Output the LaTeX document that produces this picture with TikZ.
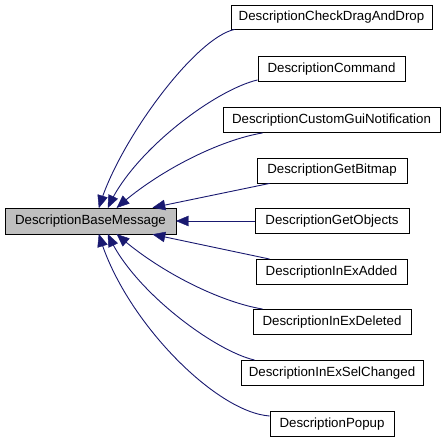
\documentclass[tikz,border=0pt]{standalone}
\usepackage{fontspec}
\setmainfont{Liberation Sans}
\usetikzlibrary{calc}
\definecolor{edgecol}{HTML}{191970}
\definecolor{basefill}{HTML}{BFBFBF}
\tikzset{
  cls/.style={draw=black, line width=0.9bp, fill=white, minimum height=25bp, inner sep=0pt, font=\fontsize{13.3bp}{15bp}\selectfont},
  basecls/.style={cls, fill=basefill, minimum height=26bp},
  conn/.style={draw=edgecol, line width=0.9bp, shorten >=4bp},
  tiphead/.style={fill=edgecol, draw=edgecol, line width=0.4bp, line join=miter},
}
\newcommand\headto[2]{\path[tiphead] (#1) -- ($(#1)!12bp!(#2)!5bp!90:(#1)$) -- ($(#1)!12bp!(#2)!5bp!-90:(#1)$) -- cycle;}
\begin{document}
\begin{tikzpicture}[x=1bp,y=1bp]
\useasboundingbox (0,0) rectangle (445,443);
\node[basecls, minimum width=171bp] (base) at (90.5,222) {DescriptionBaseMessage};
\node[cls, minimum width=201bp, minimum height=24bp] (n1) at (331.5,426) {DescriptionCheckDragAndDrop};
\node[cls, minimum width=147bp] (n2) at (331.5,374) {DescriptionCommand};
\node[cls, minimum width=217bp] (n3) at (331.5,323) {DescriptionCustomGuiNotification};
\node[cls, minimum width=150bp] (n4) at (332,272.5) {DescriptionGetBitmap};
\node[cls, minimum width=154bp] (n5) at (332,222) {DescriptionGetObjects};
\node[cls, minimum width=151bp] (n6) at (331.5,171) {DescriptionInExAdded};
\node[cls, minimum width=158bp] (n7) at (332,121) {DescriptionInExDeleted};
\node[cls, minimum width=182bp] (n8) at (332,70) {DescriptionInExSelChanged};
\node[cls, minimum width=124bp] (n9) at (332,19) {DescriptionPopup};

\coordinate (t1) at ([xshift=8.5bp]base.north);
\coordinate (t2) at ([xshift=17.5bp]base.north);
\coordinate (t3) at ([xshift=26.5bp]base.north);
\coordinate (t4) at ([xshift=62.5bp]base.north);
\coordinate (t6) at ([xshift=62.5bp]base.south);
\coordinate (t7) at ([xshift=26.5bp]base.south);
\coordinate (t8) at ([xshift=17.5bp]base.south);
\coordinate (t9) at ([xshift=8.5bp]base.south);
\coordinate (s1) at ([xshift=4bp]n1.south west);
\coordinate (s2) at ([yshift=2bp]n2.south west);
\coordinate (s3) at ([xshift=40bp]n3.south west);
\coordinate (s4) at ([xshift=13bp]n4.south west);
\coordinate (s6) at ([xshift=14bp]n6.north west);
\coordinate (s7) at ([xshift=10bp]n7.north west);
\coordinate (s8) at ([xshift=14bp]n8.north west);
\coordinate (s9) at ([yshift=8bp]n9.west);

\draw[conn] (s1) .. controls (195,405) and (120,303) .. (t1);
\draw[conn] (s2) .. controls (215,353) and (135,293) .. (t2);
\draw[conn] (s3) .. controls (220,303) and (160,273) .. (t3);
\draw[conn] (s4) -- (t4);
\draw[conn] (n5.west) -- (base.east);
\draw[conn] (s6) -- (t6);
\draw[conn] (s7) .. controls (220,141) and (160,171) .. (t7);
\draw[conn] (s8) .. controls (215,92) and (135,151) .. (t8);
\draw[conn] (s9) .. controls (215,31) and (125,123) .. (t9);

\headto{t1}{120,303}
\headto{t2}{135,293}
\headto{t3}{160,273}
\headto{t4}{s4}
\headto{base.east}{n5.west}
\headto{t6}{s6}
\headto{t7}{160,171}
\headto{t8}{135,151}
\headto{t9}{125,123}
\end{tikzpicture}
\end{document}
